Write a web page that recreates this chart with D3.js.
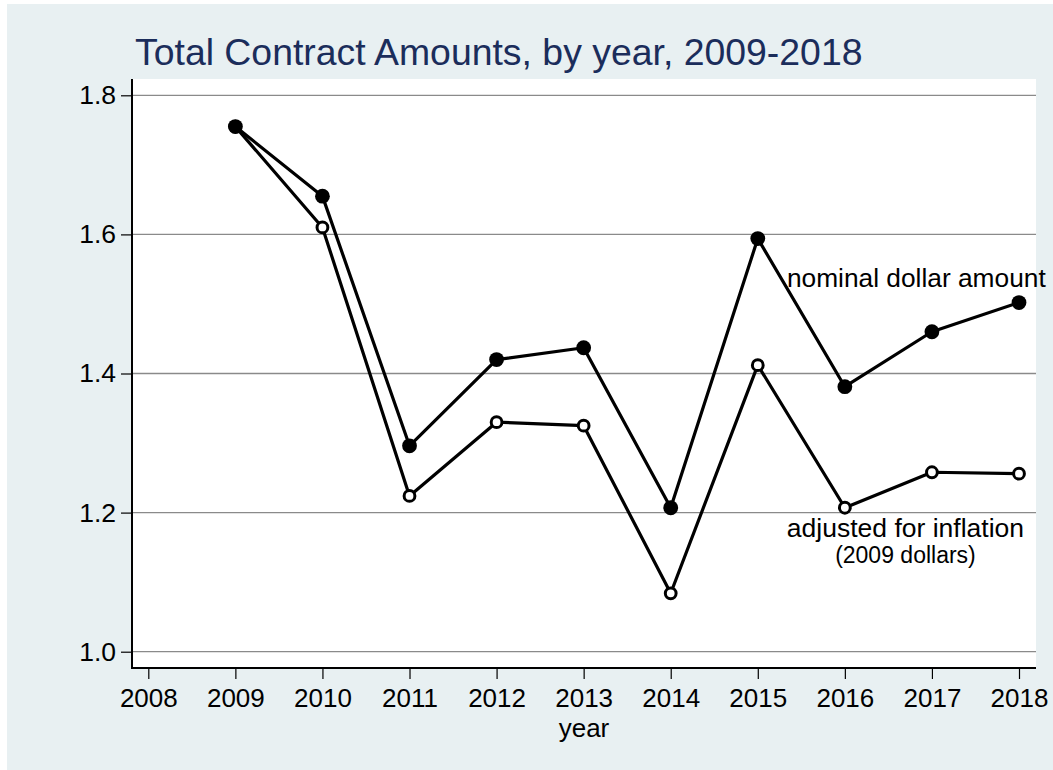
<!DOCTYPE html>
<html>
<head>
<meta charset="utf-8">
<script src="https://cdn.jsdelivr.net/npm/d3@7"></script>
<style>
  html, body { margin: 0; padding: 0; background: #ffffff; }
  svg { display: block; font-family: "Liberation Sans", Arial, Helvetica, sans-serif; }
</style>
</head>
<body>
<svg id="chart" width="1053" height="770"></svg>
<script>
// Total contract amounts (billions), 2009-2018
const years = [2009, 2010, 2011, 2012, 2013, 2014, 2015, 2016, 2017, 2018];
const nominal = [1.755, 1.655, 1.296, 1.420, 1.437, 1.207, 1.594, 1.381, 1.460, 1.502];
const adjusted = [1.755, 1.610, 1.224, 1.330, 1.325, 1.084, 1.412, 1.207, 1.258, 1.256];

const xTicks = [2008, 2009, 2010, 2011, 2012, 2013, 2014, 2015, 2016, 2017, 2018];
const yTicks = [1.0, 1.2, 1.4, 1.6, 1.8];

const titleText = "Total Contract Amounts, by year, 2009-2018";
const xTitle = "year";
const nominalLabel = "nominal dollar amount";
const adjustedLabel = "adjusted for inflation";
const adjustedSub = "(2009 dollars)";

const svg = d3.select("#chart");

// outer graph region
svg.append("rect")
  .attr("x", 7).attr("y", 4).attr("width", 1046).attr("height", 766)
  .attr("fill", "#e8f0f2");

// plot region
const plot = { left: 132, right: 1036, top: 79, bottom: 668 };
svg.append("rect")
  .attr("x", plot.left).attr("y", plot.top)
  .attr("width", plot.right - plot.left).attr("height", plot.bottom - plot.top)
  .attr("fill", "#ffffff");

const x = d3.scaleLinear().domain([2008, 2018]).range([148.3, 1019]);
const y = d3.scaleLinear().domain([1.0, 1.8]).range([651.7, 95.3]);

// gridlines
svg.append("g").selectAll("line")
  .data(yTicks).join("line")
  .attr("x1", plot.left).attr("x2", plot.right)
  .attr("y1", d => y(d)).attr("y2", d => y(d))
  .attr("stroke", "#8a8a8a").attr("stroke-width", 1.3);

// y axis
const yAxis = svg.append("g")
  .attr("transform", `translate(${plot.left},0)`)
  .call(d3.axisLeft(y).tickValues(yTicks).tickFormat(d3.format(".1f")).tickSize(11).tickPadding(5));
yAxis.select(".domain").remove();
yAxis.selectAll(".tick line").attr("stroke", "#000").attr("stroke-width", 1.2);
yAxis.selectAll(".tick text")
  .attr("font-size", 26.5).attr("fill", "#000")
  .attr("font-family", "Liberation Sans, Arial, sans-serif");

// x axis
const xAxis = svg.append("g")
  .attr("transform", `translate(0,${plot.bottom})`)
  .call(d3.axisBottom(x).tickValues(xTicks).tickFormat(d3.format("d")).tickSize(11).tickPadding(9.5));
xAxis.select(".domain").remove();
xAxis.selectAll(".tick line").attr("stroke", "#000").attr("stroke-width", 1.2);
xAxis.selectAll(".tick text")
  .attr("font-size", 26).attr("fill", "#000")
  .attr("font-family", "Liberation Sans, Arial, sans-serif");

// axis lines
svg.append("line")
  .attr("x1", plot.left).attr("x2", plot.left)
  .attr("y1", plot.top).attr("y2", plot.bottom + 1)
  .attr("stroke", "#000").attr("stroke-width", 2);
svg.append("line")
  .attr("x1", plot.left - 1).attr("x2", plot.right)
  .attr("y1", plot.bottom).attr("y2", plot.bottom)
  .attr("stroke", "#000").attr("stroke-width", 2);

// title
svg.append("text")
  .attr("x", 135).attr("y", 65)
  .attr("font-size", 37.4).attr("fill", "#1b2d5b")
  .text(titleText);

// x-axis title
svg.append("text")
  .attr("x", (plot.left + plot.right) / 2).attr("y", 736.5)
  .attr("text-anchor", "middle").attr("font-size", 26).attr("fill", "#000")
  .text(xTitle);

const line = d3.line().x((d, i) => x(years[i])).y(d => y(d));

// adjusted series: hollow circles
svg.append("path").datum(adjusted)
  .attr("d", line).attr("fill", "none")
  .attr("stroke", "#000").attr("stroke-width", 3.2).attr("stroke-linejoin", "round");
svg.append("g").selectAll("circle")
  .data(adjusted).join("circle")
  .attr("cx", (d, i) => x(years[i])).attr("cy", d => y(d))
  .attr("r", 5.4).attr("fill", "#fff")
  .attr("stroke", "#000").attr("stroke-width", 3);

// nominal series: filled circles
svg.append("path").datum(nominal)
  .attr("d", line).attr("fill", "none")
  .attr("stroke", "#000").attr("stroke-width", 3.2).attr("stroke-linejoin", "round");
svg.append("g").selectAll("circle")
  .data(nominal).join("circle")
  .attr("cx", (d, i) => x(years[i])).attr("cy", d => y(d))
  .attr("r", 7.4).attr("fill", "#000");

// series labels
svg.append("text")
  .attr("x", x(2015.335)).attr("y", y(1.5244))
  .attr("font-size", 26.3).attr("fill", "#000")
  .text(nominalLabel);

svg.append("text")
  .attr("x", x(2016.696)).attr("y", y(1.1653))
  .attr("text-anchor", "middle").attr("font-size", 26.5).attr("fill", "#000")
  .text(adjustedLabel);
svg.append("text")
  .attr("x", x(2016.696)).attr("y", y(1.1653) + 26.6)
  .attr("text-anchor", "middle").attr("font-size", 23).attr("fill", "#000")
  .text(adjustedSub);
</script>
</body>
</html>
